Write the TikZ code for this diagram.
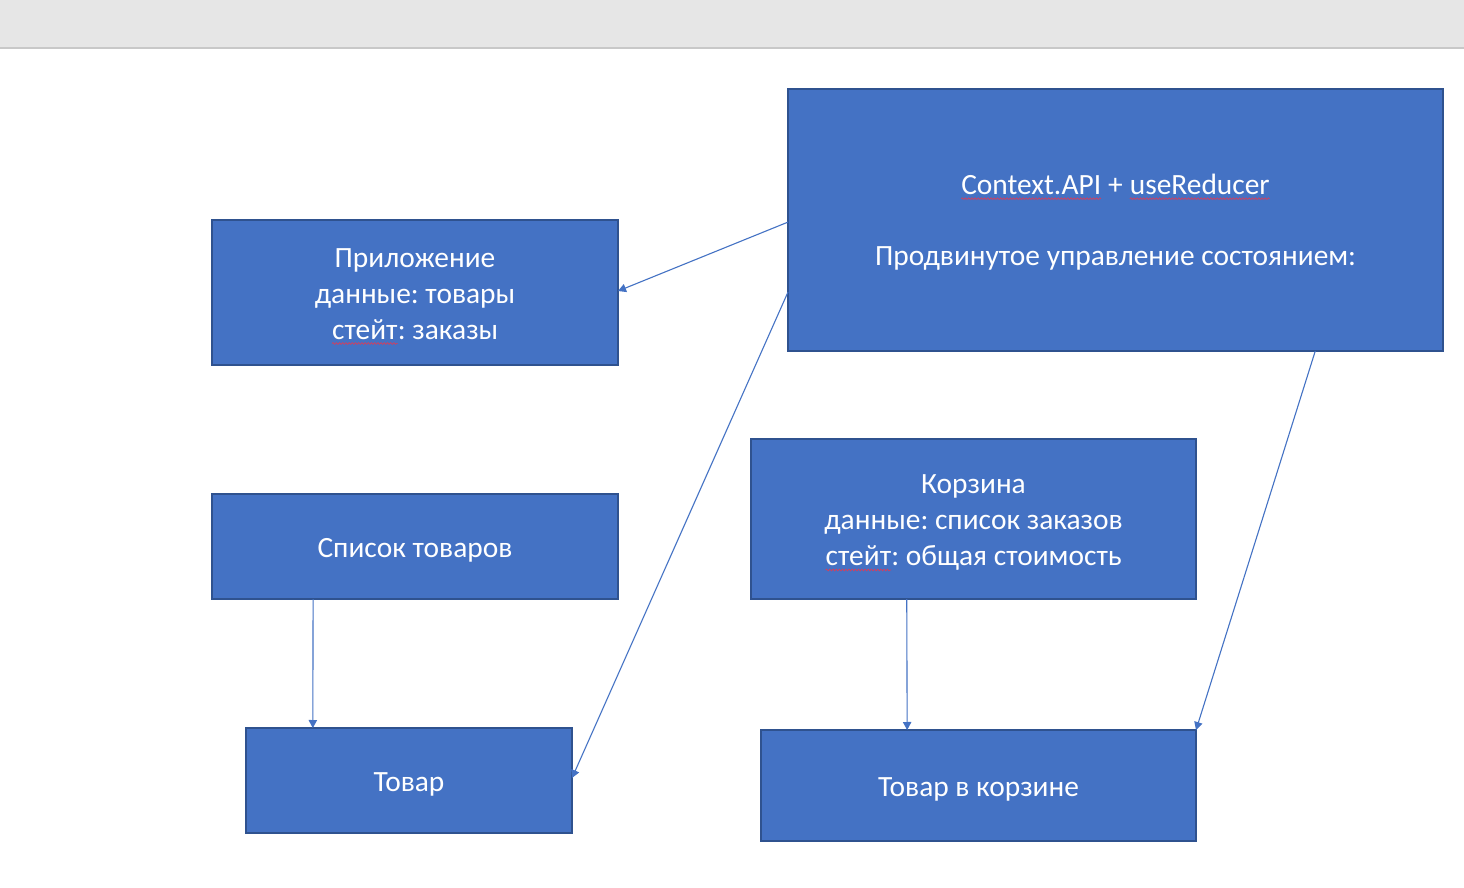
\documentclass[tikz,border=0pt]{standalone}
\usepackage{fontspec}
\setmainfont{Carlito}
\usetikzlibrary{arrows.meta,calc,decorations.pathmorphing}
\definecolor{boxfill}{HTML}{4472C4}
\definecolor{boxline}{HTML}{2F528F}
\definecolor{barfill}{HTML}{E6E6E6}
\definecolor{barline}{HTML}{C8C8C8}
\definecolor{spell}{HTML}{D04060}
\frenchspacing
\newcommand\spellmark[1]{\tikz[baseline=(w.base),x=1pt,y=1pt]{%
  \node[shape=rectangle,draw=none,fill=none,inner sep=0pt,outer sep=0pt,
    minimum width=0pt,minimum height=0pt,anchor=base,text=white] (w) at (0,0) {#1};%
  \draw[spell,line width=0.35pt,decorate,decoration={snake,amplitude=0.45pt,segment length=1.6pt}]
    ([yshift=-2.2pt]w.base west) -- ([yshift=-2.2pt]w.base east);}}
\begin{document}
\begin{tikzpicture}[x=0.5pt,y=-0.5pt,
  box/.style={draw=boxline,line width=1pt,fill=boxfill,inner sep=0pt,outer sep=0pt},
  boxtext/.style={text=white,align=center,font=\fontsize{14.7pt}{18pt}\selectfont,
    inner sep=0pt,yshift=-2pt},
  txt/.style={label={[boxtext]center:{#1}}},
  conn/.style={draw=boxfill,line width=0.55pt,-{Triangle[length=4pt,width=4.2pt]}}]
\useasboundingbox (0,0) rectangle (1464,888);
\fill[white] (0,0) rectangle (1464,888);
\fill[barfill] (0,0) rectangle (1464,48);
\draw[barline,line width=0.7pt] (0,48) -- (1464,48);

\node[box,minimum width=327.5pt,minimum height=131pt,
  label={[boxtext,yshift=1pt]center:{\spellmark{Context.API} + \spellmark{useReducer}\\[17.5pt]Продвинутое управление состоянием:}}]
  (ctx) at (1115.5,220) {};
\node[box,minimum width=203pt,minimum height=72.5pt,
  txt={Приложение\\данные: товары\\\spellmark{стейт}: заказы}] (app) at (415,292.5) {};
\node[box,minimum width=203pt,minimum height=52.5pt,
  txt={Список товаров}] (list) at (415,546.5) {};
\node[box,minimum width=163pt,minimum height=52.5pt,
  txt={Товар}] (item) at (409,780.5) {};
\node[box,minimum width=222.5pt,minimum height=80pt,
  txt={Корзина\\данные: список заказов\\\spellmark{стейт}: общая стоимость}] (cart) at (973.5,519) {};
\node[box,minimum width=217.5pt,minimum height=55.5pt,
  txt={Товар в корзине}] (citem) at (978.5,785.5) {};

\coordinate (c1) at ($(ctx.north west)!0.508!(ctx.south west)$);
\coordinate (c2) at ($(ctx.north west)!0.775!(ctx.south west)$);
\coordinate (c3) at ($(ctx.south west)!0.805!(ctx.south east)$);
\coordinate (l1) at ($(list.south west)!0.249!(list.south east)$);
\coordinate (i1) at ($(item.north west)!0.205!(item.north east)$);
\coordinate (k1) at ($(cart.south west)!0.35!(cart.south east)$);
\coordinate (ci1) at ($(citem.north west)!0.336!(citem.north east)$);
\coordinate (a1) at ($(app.north east)!0.49!(app.south east)$);
\coordinate (t1) at ($(item.north east)!0.476!(item.south east)$);

\draw[conn] (c1) -- (a1);
\draw[conn] (c2) -- (t1);
\draw[conn] (l1) -- (i1);
\draw[conn] (k1) -- (ci1);
\draw[conn] (c3) -- (citem.north east);
\end{tikzpicture}
\end{document}
